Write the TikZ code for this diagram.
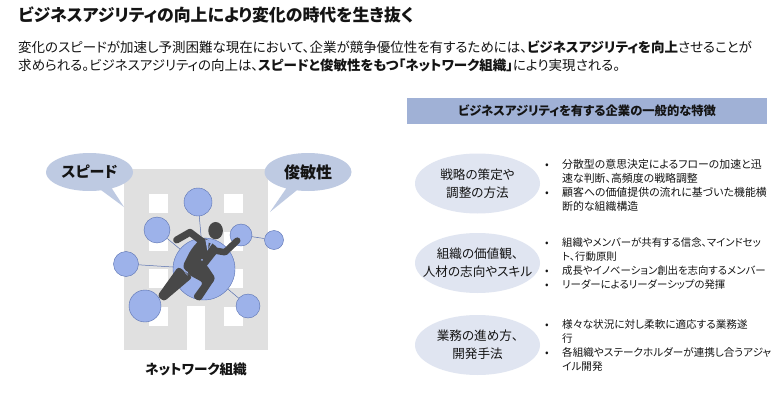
\documentclass[tikz,border=0pt]{standalone}
\usepackage{xcolor}
\usepackage{fontspec}
\setmainfont[RawFeature=+palt]{Noto Sans CJK JP}
\usepackage{tikz}
\usetikzlibrary{shapes.geometric,shapes.callouts,positioning}
\definecolor{buildinggray}{RGB}{224,224,224}
\definecolor{netblue}{RGB}{157,178,234}
\definecolor{netedge}{RGB}{88,112,176}
\definecolor{calloutblue}{RGB}{190,202,226}
\definecolor{headerblue}{RGB}{160,177,214}
\definecolor{ovalblue}{RGB}{224,229,241}
\definecolor{persongray}{RGB}{72,72,72}
\definecolor{inktext}{RGB}{20,20,20}
\tikzset{
  netnode/.style={circle, draw=netedge, line width=0.4pt, fill=netblue, inner sep=0pt},
  netlink/.style={draw=netedge, line width=0.5pt},
  speechbox/.style={ellipse callout, fill=calloutblue, minimum width=87pt, minimum height=38pt,
                    inner sep=0pt, font=\fontsize{16}{18}\selectfont\bfseries},
  ovalbox/.style={ellipse, fill=ovalblue, minimum width=125pt, minimum height=60pt, inner xsep=-30pt,
                  inner ysep=-10pt, align=center, font=\fontsize{12.6}{18}\selectfont},
  itemlist/.style={anchor=north west, inner sep=0pt, align=left,
                   font=\fontsize{10.8}{14}\selectfont},
  bodyline/.style={anchor=west, inner sep=0pt, font=\fontsize{13.5}{16}\selectfont},
  windowbox/.style={fill=white, minimum width=19pt, minimum height=19pt, inner sep=0pt}
}
\newcommand{\firstitem}{\makebox[17pt][l]{•}}
\newcommand{\nextline}{\hspace*{17pt}}
\begin{document}
\begin{tikzpicture}[x=1pt,y=-1pt,text=inktext]
\useasboundingbox (0,0) rectangle (780,415);
\fill[white] (0,0) rectangle (780,415);

\node[anchor=west, inner sep=0pt, font=\fontsize{16.9}{18}\selectfont\bfseries] (title) at (18,15)
  {ビジネスアジリティの向上により変化の時代を生き抜く};
\node[bodyline] (lead1) at (18,47)
  {変化のスピードが加速し予測困難な現在において、企業が競争優位性を有するためには、\textbf{ビジネスアジリティを向上}させることが};
\node[bodyline] (lead2) at (18,65)
  {求められる。ビジネスアジリティの向上は、\textbf{スピードと俊敏性をもつ「ネットワーク組織」}により実現される。};

% building
\fill[buildinggray] (124,169) rectangle (268,350);
\fill[white] (187,306) rectangle (205,350);
\foreach \wx in {158.5,233.5}
  \foreach \wy in {203.5,241,278,316}
    \node[windowbox] at (\wx,\wy) {};

% network
\node[netnode, minimum size=62pt] (hub) at (204,269) {};
\node[netnode, minimum size=28pt] (ntop) at (198,202) {};
\node[netnode, minimum size=26pt] (nupper) at (157,230) {};
\node[netnode, minimum size=25pt] (nleft) at (126,264) {};
\node[netnode, minimum size=32pt] (nlower) at (145,306) {};
\node[netnode, minimum size=24pt] (nbottom) at (248,306) {};
\node[netnode, minimum size=22pt] (nright) at (241,235) {};
\node[netnode, minimum size=19pt] (nfar) at (274,240) {};
\draw[netlink] (ntop) -- (hub);
\draw[netlink] (nupper) -- (hub);
\draw[netlink] (nleft) -- (hub);
\draw[netlink] (nlower) -- (hub);
\draw[netlink] (nbottom) -- (hub);
\draw[netlink] (nright) -- (hub);
\draw[netlink] (nright) -- (nfar);

% runner
\begin{scope}[shift={(150,200)},x=0.333pt,y=-0.333pt,persongray,line cap=round,line join=round]
  \fill (197,92) ellipse (22 and 26);
  \draw[line width=7pt] (80,120) -- (120,97) -- (170,135);
  \draw[line width=6.5pt] (185,150) -- (225,157) -- (262,122);
  \fill[rounded corners=3pt] (85,200) -- (128,232) -- (42,305) -- (22,288) -- cycle;
  \fill[rounded corners=3pt] (125,165) -- (170,195) -- (197,235) -- (150,305) -- (128,292) -- (160,248) -- (112,222) -- cycle;
  \fill[rounded corners=5pt] (158,108) -- (210,148) -- (165,205) -- (135,228) -- (95,205) -- (122,150) -- cycle;
  \fill[netblue] (166,118) -- (190,126) -- (172,152) -- cycle;
  \fill[persongray] (176,128) -- (182,130) -- (175,148) -- cycle;
  \fill[netblue] (156,180) circle (3);
  \draw[netblue, line width=0.5pt] (98,190) .. controls (96,205) and (104,218) .. (113,226);
\end{scope}

% callouts
\node[speechbox, font=\fontsize{15}{18}\selectfont\bfseries, callout absolute pointer={(124,207)}] (speed) at (89.5,172) {スピード};
\node[speechbox, callout absolute pointer={(270,212)}] (agile) at (308,172) {俊敏性};
\node[inner sep=0pt, font=\fontsize{13.6}{16}\selectfont\bfseries] (netlabel) at (196,369) {ネットワーク組織};

% right column
\node[fill=headerblue, minimum width=360pt, minimum height=26pt, inner sep=0pt,
      font=\fontsize{12.3}{15}\selectfont\bfseries] (header) at (587,111)
  {ビジネスアジリティを有する企業の一般的な特徴};

\node[ovalbox] (oval1) at (477.5,183.5) {戦略の策定や\\調整の方法};
\node[ovalbox] (oval2) at (477.5,263) {組織の価値観、\\人材の志向やスキル};
\node[ovalbox] (oval3) at (477.5,345) {業務の進め方、\\開発手法};

\node[itemlist, font=\fontsize{10.9}{14}\selectfont] (list1) at (545,159) {%
  \firstitem 分散型の意思決定によるフローの加速と迅\\
  \nextline 速な判断、高頻度の戦略調整\\
  \firstitem 顧客への価値提供の流れに基づいた機能横\\
  \nextline 断的な組織構造};
\node[itemlist, font=\fontsize{10.4}{14}\selectfont] (list2) at (545,237) {%
  \firstitem 組織やメンバーが共有する信念、マインドセッ\\
  \nextline ト、行動原則\\
  \firstitem 成長やイノベーション創出を志向するメンバー\\
  \firstitem リーダーによるリーダーシップの発揮};
\node[itemlist, font=\fontsize{10.6}{14}\selectfont] (list3) at (545,319) {%
  \firstitem 様々な状況に対し柔軟に適応する業務遂\\
  \nextline 行\\
  \firstitem 各組織やステークホルダーが連携し合うアジャ\\
  \nextline イル開発};
\end{tikzpicture}
\end{document}
